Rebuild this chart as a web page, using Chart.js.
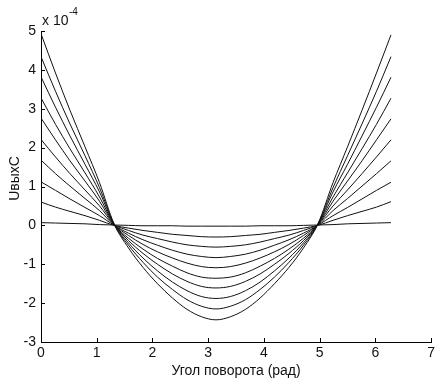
<!DOCTYPE html>
<html>
<head>
<meta charset="utf-8">
<script src="https://cdn.jsdelivr.net/npm/chart.js@4.4.0/dist/chart.umd.min.js"></script>
<style>
  body { margin: 0; background: #fff; }
  canvas { display: block; }
</style>
</head>
<body>
<canvas id="myChart" width="438" height="378"></canvas>
<script>
// angle, rad
const angles = [0, 0.26, 0.52, 0.79, 1.05, 1.31, 1.57, 1.83, 2.09, 2.36, 2.62, 2.88, 3.14,
  3.40, 3.67, 3.93, 4.19, 4.45, 4.71, 4.97, 5.24, 5.50, 5.76, 6.02, 6.28];

// output voltage, x 10^-4
const u1 = [0.07, 0.06, 0.05, 0.04, 0.02, 0.01, 0, -0.01, -0.01, -0.01, -0.02, -0.02, -0.02, -0.02, -0.02, -0.01, -0.01, -0.01, 0, 0.01, 0.02, 0.04, 0.05, 0.06, 0.07];
const u2 = [0.6, 0.47, 0.36, 0.25, 0.13, 0, -0.07, -0.13, -0.18, -0.23, -0.26, -0.29, -0.3, -0.29, -0.26, -0.23, -0.18, -0.13, -0.07, 0, 0.13, 0.25, 0.36, 0.47, 0.61];
const u3 = [1.12, 0.9, 0.68, 0.46, 0.25, 0.01, -0.13, -0.25, -0.34, -0.43, -0.5, -0.54, -0.56, -0.54, -0.5, -0.43, -0.34, -0.25, -0.13, 0.01, 0.25, 0.46, 0.68, 0.9, 1.11];
const u4 = [1.68, 1.33, 1.01, 0.69, 0.38, 0.01, -0.2, -0.37, -0.51, -0.64, -0.74, -0.8, -0.83, -0.8, -0.74, -0.64, -0.51, -0.37, -0.2, 0.01, 0.38, 0.69, 1.01, 1.33, 1.66];
const u5 = [2.21, 1.76, 1.33, 0.91, 0.5, 0.02, -0.26, -0.49, -0.68, -0.84, -0.97, -1.06, -1.09, -1.06, -0.97, -0.84, -0.68, -0.49, -0.26, 0.02, 0.5, 0.91, 1.33, 1.76, 2.2];
const u6 = [2.76, 2.2, 1.66, 1.14, 0.62, 0.02, -0.33, -0.61, -0.85, -1.05, -1.22, -1.33, -1.36, -1.33, -1.22, -1.05, -0.85, -0.61, -0.33, 0.02, 0.62, 1.14, 1.66, 2.2, 2.74];
const u7 = [3.28, 2.6, 1.97, 1.35, 0.73, 0.03, -0.39, -0.72, -1, -1.25, -1.44, -1.57, -1.61, -1.57, -1.44, -1.25, -1, -0.72, -0.39, 0.03, 0.73, 1.35, 1.97, 2.6, 3.27];
const u8 = [3.82, 3.04, 2.3, 1.57, 0.86, 0.03, -0.45, -0.84, -1.17, -1.46, -1.68, -1.83, -1.88, -1.83, -1.68, -1.46, -1.17, -0.84, -0.45, 0.03, 0.86, 1.57, 2.3, 3.04, 3.81];
const u9 = [4.34, 3.45, 2.61, 1.79, 0.97, 0.04, -0.51, -0.95, -1.33, -1.65, -1.91, -2.08, -2.15, -2.08, -1.91, -1.65, -1.33, -0.95, -0.51, 0.04, 0.97, 1.79, 2.61, 3.45, 4.34];
const u10 = [4.93, 3.92, 2.96, 2.02, 1.1, 0.04, -0.58, -1.08, -1.5, -1.87, -2.16, -2.35, -2.43, -2.35, -2.16, -1.87, -1.5, -1.08, -0.58, 0.04, 1.1, 2.02, 2.96, 3.92, 4.9];

const curves = [u1, u2, u3, u4, u5, u6, u7, u8, u9, u10];

const xTitle = "Угол поворота (рад)";
const yTitle = "UвыхC";

const FONT = "'Liberation Sans', Arial, sans-serif";

// matlab style: ticks inside, labels drawn by hand
const matlabAxes = {
  id: "matlabAxes",
  afterDraw(chart) {
    const ctx = chart.ctx;
    const a = chart.chartArea;
    const xs = chart.scales.x, ys = chart.scales.y;
    ctx.save();
    ctx.strokeStyle = "#000";
    ctx.lineWidth = 1;
    ctx.beginPath();
    xs.ticks.forEach(t => {
      const p = Math.round(xs.getPixelForValue(t.value)) + 0.5;
      ctx.moveTo(p, a.bottom);
      ctx.lineTo(p, a.bottom - 4);
    });
    ys.ticks.forEach(t => {
      const p = Math.round(ys.getPixelForValue(t.value)) + 0.5;
      ctx.moveTo(a.left, p);
      ctx.lineTo(a.left + 4, p);
    });
    ctx.stroke();

    ctx.fillStyle = "#111";
    ctx.font = "14px " + FONT;
    ctx.textAlign = "center";
    ctx.textBaseline = "alphabetic";
    ctx.fillText(xTitle, (a.left + a.right) / 2, 375);

    ctx.save();
    ctx.translate(19, (a.top + a.bottom) / 2 - 8);
    ctx.rotate(-Math.PI / 2);
    ctx.fillText(yTitle, 0, 0);
    ctx.restore();

    ctx.textAlign = "left";
    ctx.fillText("x 10", a.left + 1, 25);
    ctx.font = "10px " + FONT;
    ctx.fillText("-4", a.left + 28, 15);
    ctx.restore();
  }
};

new Chart("myChart", {
  type: "line",
  data: {
    datasets: curves.map(c => ({
      data: angles.map((x, i) => ({ x: x, y: c[i] })),
      borderColor: "#111",
      borderWidth: 1,
      pointRadius: 0,
      cubicInterpolationMode: "monotone",
      fill: false
    }))
  },
  options: {
    responsive: false,
    animation: false,
    layout: { padding: { top: 31, right: 4, left: 0, bottom: 0 } },
    plugins: {
      legend: { display: false },
      tooltip: { enabled: false }
    },
    scales: {
      x: {
        type: "linear",
        min: 0,
        max: 7,
        ticks: { stepSize: 1, color: "#111", font: { size: 14, family: FONT }, padding: 3, maxRotation: 0 },
        grid: { drawOnChartArea: false, drawTicks: false },
        border: { display: true, color: "#000", width: 1 },
        afterFit: s => { s.height = 36; }
      },
      y: {
        min: -3,
        max: 5,
        ticks: { stepSize: 1, color: "#111", font: { size: 14, family: FONT }, padding: 5 },
        grid: { drawOnChartArea: false, drawTicks: false },
        border: { display: true, color: "#000", width: 1 },
        afterFit: s => { s.width = 41; }
      }
    }
  },
  plugins: [matlabAxes]
});
</script>
</body>
</html>
